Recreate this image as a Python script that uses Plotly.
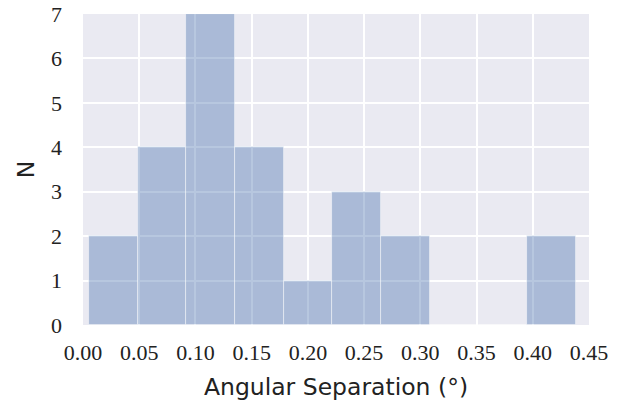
import plotly.graph_objects as go

bin_edges = [0.0052, 0.0485, 0.0918, 0.1352, 0.1785, 0.2218, 0.2651, 0.3084, 0.3518, 0.3951, 0.4384]
counts = [2, 4, 7, 4, 1, 3, 2, 0, 0, 2]
x_ticks = [0.00, 0.05, 0.10, 0.15, 0.20, 0.25, 0.30, 0.35, 0.40, 0.45]
x_tick_text = ["0.00", "0.05", "0.10", "0.15", "0.20", "0.25", "0.30", "0.35", "0.40", "0.45"]
y_ticks = [0, 1, 2, 3, 4, 5, 6, 7]

centers = [(a + b) / 2 for a, b in zip(bin_edges[:-1], bin_edges[1:])]
widths = [b - a for a, b in zip(bin_edges[:-1], bin_edges[1:])]

fig = go.Figure()
fig.add_trace(go.Bar(
    x=centers, y=counts, width=widths,
    marker=dict(color="rgba(76,114,176,0.4)",
                line=dict(color="rgba(255,255,255,0.6)", width=0.8)),
    hoverinfo="skip",
))

serif = "Liberation Serif, DejaVu Serif, serif"
sans = "DejaVu Sans, sans-serif"

fig.update_layout(
    width=621, height=406,
    margin=dict(l=83, r=32, t=14, b=81),
    paper_bgcolor="white",
    plot_bgcolor="#EAEAF2",
    showlegend=False,
    bargap=0,
    xaxis=dict(
        range=[0.0, 0.45],
        tickvals=x_ticks, ticktext=x_tick_text,
        showgrid=True, gridcolor="white", gridwidth=2,
        zeroline=False, showline=False, ticks="",
        automargin=False,
        ticklabelstandoff=12,
        tickfont=dict(family=serif, size=22, color="#222222"),
        title=dict(text="Angular Separation (°)", font=dict(family=sans, size=23.5, color="#222222"), standoff=14),
    ),
    yaxis=dict(
        range=[0, 7],
        tickvals=y_ticks,
        showgrid=True, gridcolor="white", gridwidth=2,
        zeroline=False, showline=False, ticks="",
        automargin=False,
        ticklabelstandoff=20,
        tickfont=dict(family=serif, size=22, color="#222222"),
        title=dict(text="N", font=dict(family=sans, size=23.5, color="#222222"), standoff=9),
    ),
)

fig.write_html("out.html", config={"displayModeBar": False},
               post_script="document.body.style.margin='0';")
